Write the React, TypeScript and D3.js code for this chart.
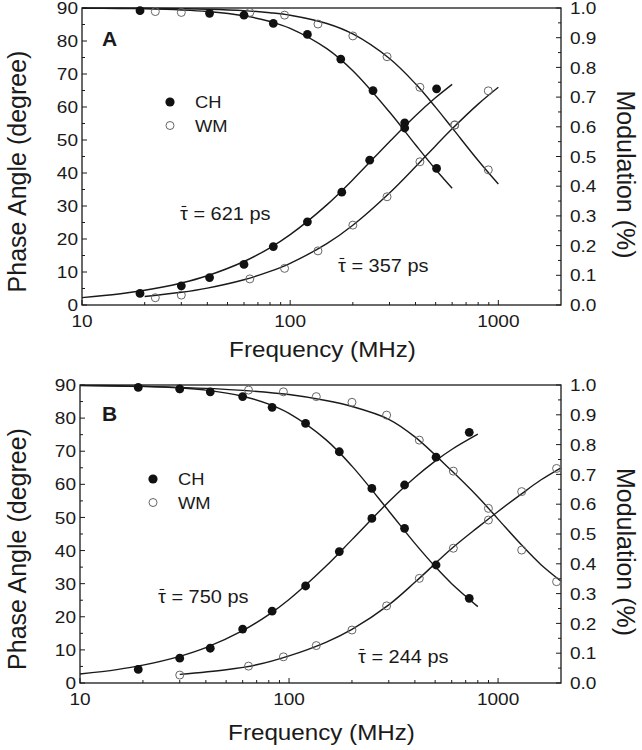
import React from 'react';
import * as d3 from 'd3';

// ---------- Panel A data ----------
const freqA_CH = [19, 30, 41, 60, 83, 121, 177, 241, 355, 505];
const phaseA_CH = [3.5, 5.8, 8.3, 12.3, 17.7, 25.2, 34.2, 43.9, 55.2, 65.5];
const freqA_CHmod = [19, 41, 60, 83, 121, 175, 250, 355, 505];
const modA_CH = [0.991, 0.982, 0.976, 0.948, 0.911, 0.828, 0.722, 0.596, 0.46];
const freqA_WM = [22.5, 30, 64, 94, 136, 200, 292, 420, 617, 895];
const phaseA_WM = [2.2, 3.0, 7.9, 11.1, 16.4, 24.2, 32.8, 43.4, 54.5, 64.9];
const modA_WM = [0.988, 0.985, 0.985, 0.976, 0.946, 0.906, 0.836, 0.733, 0.606, 0.455];

// fitted curves, panel A
const fitFreqA_CH = [10, 15, 20, 30, 40, 60, 80, 100, 150, 200, 300, 400, 500, 600];
const fitPhaseA_CH = [2.23, 3.35, 4.46, 6.68, 8.87, 13.18, 17.33, 21.31, 30.34, 37.97, 49.49, 57.35, 62.86, 66.87];
const fitModA_CH = [0.9992, 0.9983, 0.997, 0.9932, 0.988, 0.9737, 0.9546, 0.9316, 0.863, 0.7884, 0.6496, 0.5395, 0.4561, 0.3928];
const fitFreqA_WMphase = [20, 30, 40, 60, 80, 100, 150, 200, 300, 400, 500, 600, 800, 1000];
const fitPhaseA_WM = [2.57, 3.85, 5.13, 7.66, 10.17, 12.64, 18.6, 24.16, 33.94, 41.89, 48.28, 53.39, 60.87, 65.97];
const fitFreqA_WMmod = [10, 20, 30, 40, 60, 80, 100, 150, 200, 300, 400, 500, 600, 800, 1000];
const fitModA_WM = [0.9997, 0.999, 0.9977, 0.996, 0.9911, 0.9842, 0.9758, 0.9478, 0.9125, 0.8297, 0.7447, 0.6655, 0.5963, 0.4866, 0.4072];

// ---------- Panel B data ----------
const freqB_CH = [19, 30, 42, 60, 83, 120, 174, 249, 357, 505, 728];
const phaseB_CH = [4.1, 7.5, 10.5, 16.3, 21.7, 29.3, 39.7, 49.7, 59.8, 68.2, 75.7];
const modB_CH = [0.992, 0.987, 0.977, 0.961, 0.925, 0.871, 0.776, 0.653, 0.519, 0.396, 0.284];
const freqB_WM = [30, 64, 94, 135, 200, 293, 420, 611, 899, 1297, 1905];
const phaseB_WM = [2.4, 5.1, 7.9, 11.3, 16.0, 23.3, 31.6, 40.7, 49.2, 57.8, 64.8];
const modB_WM = [0.987, 0.983, 0.977, 0.961, 0.942, 0.899, 0.815, 0.711, 0.586, 0.446, 0.34];

// fitted curves, panel B
const fitFreqB_CH = [10, 15, 20, 30, 40, 60, 80, 100, 150, 200, 300, 400, 500, 600, 800];
const fitPhaseB_CH = [2.7, 4.04, 5.38, 8.05, 10.67, 15.79, 20.66, 25.23, 35.26, 43.3, 54.73, 62.05, 67.0, 70.52, 75.14];
const fitModB_CH = [0.9989, 0.9975, 0.9956, 0.9902, 0.9827, 0.9623, 0.9357, 0.9046, 0.8166, 0.7277, 0.5774, 0.4685, 0.3907, 0.3334, 0.2564];
const fitFreqB_WMphase = [30, 50, 70, 100, 150, 200, 300, 400, 600, 800, 1000, 1300, 1600, 2000];
const fitPhaseB_WM = [2.6, 4.0, 5.5, 8.2, 12.3, 16.2, 23.6, 30.4, 40.6, 47.0, 51.8, 57.2, 61.3, 65.0];
const fitFreqB_WMmod = [10, 30, 60, 100, 150, 200, 300, 400, 600, 800, 1000, 1300, 1600, 2000];
const fitModB_WM = [0.998, 0.992, 0.982, 0.968, 0.948, 0.928, 0.885, 0.826, 0.712, 0.625, 0.55, 0.462, 0.398, 0.342];

// ---------- axis ticks / labels ----------
const phaseTicks = [0, 10, 20, 30, 40, 50, 60, 70, 80, 90];
const modTicks = [0, 0.1, 0.2, 0.3, 0.4, 0.5, 0.6, 0.7, 0.8, 0.9, 1.0];
const freqTicks = [10, 100, 1000];
const freqDomain = [10, 2000];
const legendLabels = ['CH', 'WM'];
const xTitle = 'Frequency (MHz)';
const yTitle = 'Phase Angle (degree)';
const y2Title = 'Modulation (%)';

const FONT = '"Liberation Sans", Arial, Helvetica, sans-serif';
const INK = '#1a1a1a';

type Series = { f: number[]; v: number[] };

interface PanelProps {
  letter: string;
  x0: number; x1: number; yTop: number; yBot: number;
  chPhase: Series; chMod: Series; wmPhase: Series; wmMod: Series;
  fits: { f: number[]; v: number[]; mod: boolean }[];
  tauCH: string; tauWM: string;
  tauCHpos: [number, number]; tauWMpos: [number, number];
  legendPos: [number, number];
  letterPos: [number, number];
  xTitleY: number;
}

function HText(props: { x: number; y: number; anchor?: string; size: number; weight?: string | number; sx?: number; dy?: string; children: React.ReactNode }) {
  const { x, y, anchor = 'start', size, weight = 'normal', sx = 1.12, dy, children } = props;
  return (
    <text transform={`translate(${x},${y}) scale(${sx},1)`} textAnchor={anchor as any} fontSize={size} fontWeight={weight as any} dy={dy} fill={INK} fontFamily={FONT}>
      {children}
    </text>
  );
}

function TauLabel({ x, y, value }: { x: number; y: number; value: string }) {
  return (
    <g transform={`translate(${x},${y}) scale(1.05,1)`}>
      <text x={0} y={0} fontSize={19} fill={INK} fontFamily={FONT}>{'\u03C4 = ' + value + ' ps'}</text>
      <line x1={1.5} x2={6} y1={-13.5} y2={-13.5} stroke={INK} strokeWidth={1.1} />
    </g>
  );
}

function Panel(p: PanelProps) {
  const x = d3.scaleLog().domain(freqDomain).range([p.x0, p.x1]);
  const yP = d3.scaleLinear().domain([0, 90]).range([p.yBot, p.yTop]);
  const yM = d3.scaleLinear().domain([0, 1]).range([p.yBot, p.yTop]);

  const lineP = d3.line<[number, number]>().x(d => x(d[0])).y(d => yP(d[1])).curve(d3.curveCatmullRom.alpha(0.5));
  const lineM = d3.line<[number, number]>().x(d => x(d[0])).y(d => yM(d[1])).curve(d3.curveCatmullRom.alpha(0.5));

  const minorPhase = d3.range(5, 90, 10);
  const minorMod = d3.range(0.05, 1, 0.1);
  const minorFreq: number[] = [];
  [10, 100, 1000].forEach(dec => { for (let m = 2; m <= 9; m++) { const f = dec * m; if (f < freqDomain[1]) minorFreq.push(f); } });

  const maj = 5, mnr = 3;
  const axisW = 1.3;

  const zip = (s: Series) => s.f.map((f, i) => [f, s.v[i]] as [number, number]);

  return (
    <g>
      {/* frame */}
      <rect x={p.x0} y={p.yTop} width={p.x1 - p.x0} height={p.yBot - p.yTop} fill="none" stroke={INK} strokeWidth={axisW} />
      {/* left ticks */}
      {phaseTicks.map(t => (
        <g key={'lp' + t}>
          <line x1={p.x0} x2={p.x0 + maj} y1={yP(t)} y2={yP(t)} stroke={INK} strokeWidth={1} />
          <HText x={p.x0 - 4} y={yP(t)} anchor="end" size={17} dy="0.36em">{String(t)}</HText>
        </g>
      ))}
      {minorPhase.map(t => (
        <line key={'lm' + t} x1={p.x0} x2={p.x0 + mnr} y1={yP(t)} y2={yP(t)} stroke={INK} strokeWidth={1} />
      ))}
      {/* right ticks */}
      {modTicks.map(t => (
        <g key={'rp' + t}>
          <line x1={p.x1} x2={p.x1 - maj} y1={yM(t)} y2={yM(t)} stroke={INK} strokeWidth={1} />
          <HText x={p.x1 + 9} y={yM(t)} anchor="start" size={17} dy="0.36em">{t.toFixed(1)}</HText>
        </g>
      ))}
      {minorMod.map(t => (
        <line key={'rm' + t} x1={p.x1} x2={p.x1 - mnr} y1={yM(t)} y2={yM(t)} stroke={INK} strokeWidth={1} />
      ))}
      {/* bottom ticks */}
      {freqTicks.map(t => (
        <g key={'bp' + t}>
          <line x1={x(t)} x2={x(t)} y1={p.yBot} y2={p.yBot - maj} stroke={INK} strokeWidth={1} />
          <HText x={x(t)} y={p.yBot + 22} anchor="middle" size={17}>{String(t)}</HText>
        </g>
      ))}
      {minorFreq.map(t => (
        <line key={'bm' + t} x1={x(t)} x2={x(t)} y1={p.yBot} y2={p.yBot - mnr} stroke={INK} strokeWidth={1} />
      ))}

      {/* fitted curves */}
      {p.fits.map((c, i) => (
        <path key={'fit' + i} d={(c.mod ? lineM : lineP)(c.f.map((f, j) => [f, c.v[j]] as [number, number])) || ''} fill="none" stroke={INK} strokeWidth={1.4} />
      ))}

      {/* data points */}
      {zip(p.wmPhase).map((d, i) => (
        <circle key={'wp' + i} cx={x(d[0])} cy={yP(d[1])} r={4} fill="none" stroke="#666" strokeWidth={1} />
      ))}
      {zip(p.wmMod).map((d, i) => (
        <circle key={'wm' + i} cx={x(d[0])} cy={yM(d[1])} r={4} fill="none" stroke="#666" strokeWidth={1} />
      ))}
      {zip(p.chPhase).map((d, i) => (
        <circle key={'cp' + i} cx={x(d[0])} cy={yP(d[1])} r={4.4} fill="#111" />
      ))}
      {zip(p.chMod).map((d, i) => (
        <circle key={'cm' + i} cx={x(d[0])} cy={yM(d[1])} r={4.4} fill="#111" />
      ))}

      {/* legend */}
      <circle cx={p.legendPos[0]} cy={p.legendPos[1]} r={4.6} fill="#111" />
      <HText x={p.legendPos[0] + 25} y={p.legendPos[1] + 6} size={17} sx={1.08}>{legendLabels[0]}</HText>
      <circle cx={p.legendPos[0]} cy={p.legendPos[1] + 23.5} r={4} fill="none" stroke="#666" strokeWidth={1} />
      <HText x={p.legendPos[0] + 25} y={p.legendPos[1] + 29.5} size={17} sx={1.08}>{legendLabels[1]}</HText>

      {/* panel letter */}
      <HText x={p.letterPos[0]} y={p.letterPos[1]} size={20} weight="bold" sx={1.05}>{p.letter}</HText>

      {/* tau labels */}
      <TauLabel x={p.tauCHpos[0]} y={p.tauCHpos[1]} value={p.tauCH} />
      <TauLabel x={p.tauWMpos[0]} y={p.tauWMpos[1]} value={p.tauWM} />

      {/* axis titles */}
      <HText x={(p.x0 + p.x1) / 2 + 1} y={p.xTitleY} anchor="middle" size={22} sx={1.1}>{xTitle}</HText>
      <text transform={`translate(26,${(p.yTop + p.yBot) / 2 + 15}) rotate(-90)`} textAnchor="middle" fontSize={25} fill={INK} fontFamily={FONT}>{yTitle}</text>
      <text transform={`translate(617,${(p.yTop + p.yBot) / 2 + 18}) rotate(90)`} textAnchor="middle" fontSize={25} fill={INK} fontFamily={FONT}>{y2Title}</text>
    </g>
  );
}

export default function App() {
  return (
    <svg width={642} height={750} viewBox="0 0 642 750" style={{ position: 'absolute', left: 0, top: 0, display: 'block', background: '#fff' }}>
      <rect x={0} y={0} width={642} height={750} fill="#fff" />
      <Panel
        letter="A" x0={82} x1={561} yTop={8} yBot={305}
        chPhase={{ f: freqA_CH, v: phaseA_CH }}
        chMod={{ f: freqA_CHmod, v: modA_CH }}
        wmPhase={{ f: freqA_WM, v: phaseA_WM }}
        wmMod={{ f: freqA_WM, v: modA_WM }}
        fits={[
          { f: fitFreqA_CH, v: fitPhaseA_CH, mod: false },
          { f: fitFreqA_CH, v: fitModA_CH, mod: true },
          { f: fitFreqA_WMphase, v: fitPhaseA_WM, mod: false },
          { f: fitFreqA_WMmod, v: fitModA_WM, mod: true },
        ]}
        tauCH="621" tauWM="357"
        tauCHpos={[180, 220]} tauWMpos={[338, 272]}
        legendPos={[170, 102]}
        letterPos={[102, 46]}
        xTitleY={357}
      />
      <Panel
        letter="B" x0={80} x1={561} yTop={385} yBot={683}
        chPhase={{ f: freqB_CH, v: phaseB_CH }}
        chMod={{ f: freqB_CH, v: modB_CH }}
        wmPhase={{ f: freqB_WM, v: phaseB_WM }}
        wmMod={{ f: freqB_WM, v: modB_WM }}
        fits={[
          { f: fitFreqB_CH, v: fitPhaseB_CH, mod: false },
          { f: fitFreqB_CH, v: fitModB_CH, mod: true },
          { f: fitFreqB_WMphase, v: fitPhaseB_WM, mod: false },
          { f: fitFreqB_WMmod, v: fitModB_WM, mod: true },
        ]}
        tauCH="750" tauWM="244"
        tauCHpos={[158, 603]} tauWMpos={[358, 663]}
        legendPos={[153, 479]}
        letterPos={[102, 421]}
        xTitleY={740}
      />
    </svg>
  );
}
